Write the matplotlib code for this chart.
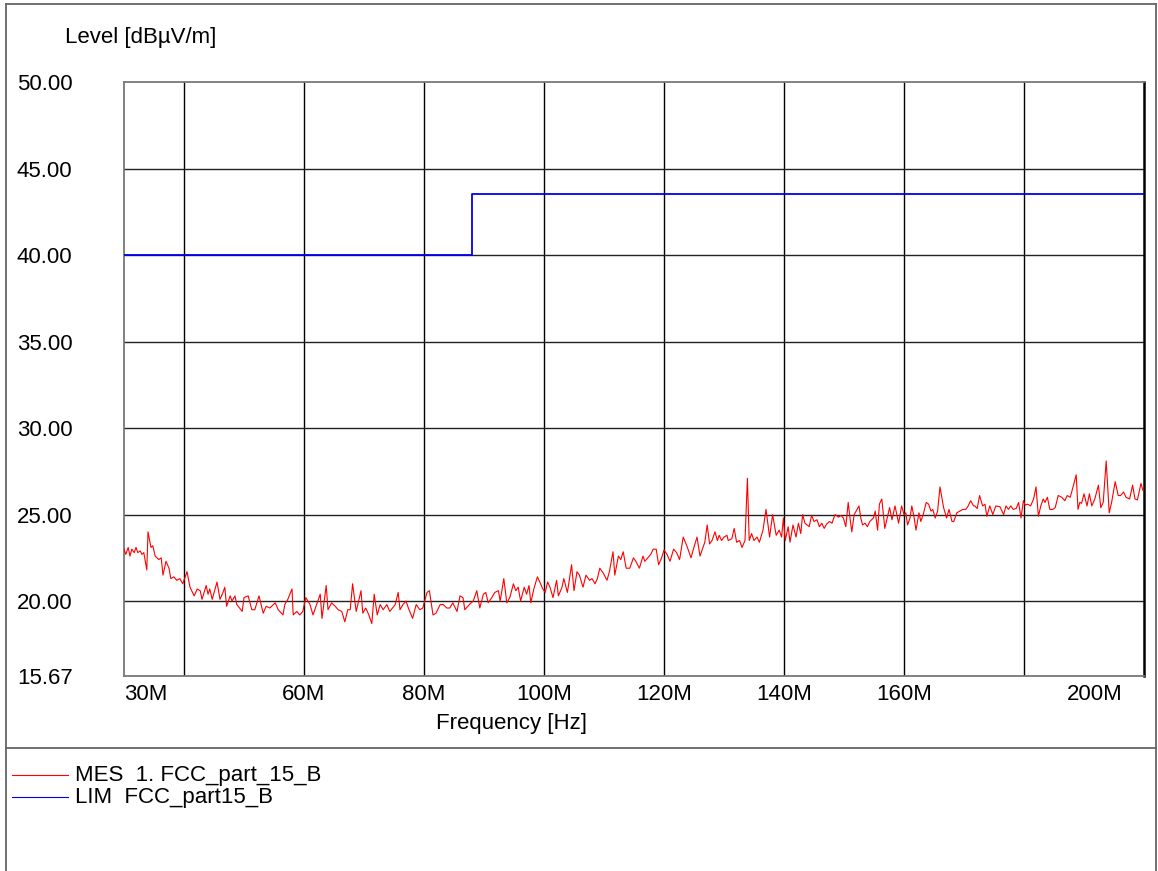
import numpy as np
import matplotlib
matplotlib.use("Agg")
import matplotlib.pyplot as plt
from matplotlib.lines import Line2D

plt.rcParams['font.family'] = ['Liberation Sans', 'DejaVu Sans']

# ================================
# DATA: measured level (MHz, dBuV/m)
# ================================
freq_mhz = [
    30.0, 30.3, 30.7, 31.0, 31.3, 31.7, 32.0, 32.3, 32.7, 33.0, 33.3, 33.8, 34.0, 34.5, 34.8,
    35.2, 35.5, 35.8, 36.2, 36.5, 37.0, 37.5, 37.8, 38.3, 38.8, 39.3, 39.8, 40.5, 41.0, 41.7,
    42.2, 42.7, 43.0, 43.7, 44.0, 44.3, 44.7, 45.5, 46.0, 46.5, 46.8, 47.1, 47.7, 48.0, 48.5,
    48.8, 49.7, 50.0, 50.7, 51.3, 51.8, 52.5, 53.2, 53.7, 54.3, 55.2, 55.7, 56.5, 56.8, 57.3,
    58.0, 58.2, 58.8, 59.3, 59.8, 60.3, 61.0, 61.5, 62.1, 62.7, 63.0, 63.7, 64.0, 64.6, 65.2,
    65.7, 66.3, 66.8, 67.3, 67.7, 68.1, 68.7, 69.5, 69.8, 70.3, 70.8, 71.3, 71.7, 72.2, 72.7,
    73.2, 73.8, 74.3, 75.2, 75.7, 76.0, 76.5, 77.0, 77.5, 78.1, 78.7, 79.3, 79.8, 80.5, 80.9,
    81.5, 82.0, 82.7, 83.2, 83.8, 84.3, 84.8, 85.5, 86.0, 86.5, 86.8, 87.3, 87.7, 88.2, 88.8,
    89.3, 89.9, 90.3, 90.7, 91.3, 91.8, 92.4, 92.7, 93.3, 93.8, 94.3, 94.9, 95.3, 95.7, 96.1,
    96.7, 97.1, 97.5, 97.8, 98.3, 98.9, 99.3, 99.8, 100.2, 100.6, 101.0, 101.5, 102.1, 102.4, 103.0,
    103.3, 103.9, 104.6, 105.0, 105.5, 105.9, 106.5, 107.0, 107.6, 108.0, 108.5, 108.9, 109.3, 109.9, 110.5,
    110.9, 111.5, 111.8, 112.4, 112.8, 113.2, 113.7, 114.3, 114.9, 115.3, 115.9, 116.5, 116.8, 117.3, 117.8,
    118.2, 118.7, 119.1, 119.6, 120.0, 120.5, 121.0, 121.6, 122.1, 122.6, 123.2, 123.8, 124.5, 124.9, 125.5,
    126.0, 126.5, 126.8, 127.2, 127.6, 128.0, 128.5, 128.9, 129.2, 129.6, 130.0, 130.5, 130.7, 131.3, 131.7,
    132.1, 132.6, 133.0, 133.5, 133.9, 134.2, 134.6, 135.0, 135.5, 135.9, 136.5, 137.0, 137.6, 138.1, 138.7,
    139.2, 139.6, 139.9, 140.2, 140.7, 141.0, 141.5, 142.0, 142.4, 142.8, 143.1, 143.5, 144.2, 144.6, 145.0,
    145.5, 145.9, 146.3, 146.7, 147.1, 147.6, 148.0, 148.5, 149.1, 149.5, 149.9, 150.3, 150.7, 151.0, 151.3,
    151.7, 152.5, 152.8, 153.1, 153.5, 153.9, 154.3, 154.9, 155.2, 155.6, 155.9, 156.3, 156.8, 157.2, 157.6,
    158.0, 158.5, 159.1, 159.6, 160.0, 160.3, 160.6, 161.0, 161.3, 161.7, 162.0, 162.5, 162.8, 163.2, 163.7,
    164.1, 164.5, 164.8, 165.2, 165.6, 166.0, 166.6, 167.1, 167.5, 168.0, 168.3, 168.8, 169.3, 169.8, 170.3,
    170.7, 171.1, 171.6, 171.8, 172.2, 172.6, 173.1, 173.5, 173.8, 174.3, 174.8, 175.3, 176.0, 176.6, 177.0,
    177.4, 177.8, 178.2, 178.7, 179.1, 179.5, 179.9, 180.2, 180.6, 181.1, 181.6, 182.0, 182.4, 182.8, 183.2,
    183.5, 183.9, 184.3, 184.8, 185.2, 185.7, 186.3, 186.8, 187.2, 187.7, 188.1, 188.7, 189.0, 189.3, 189.6,
    190.0, 190.5, 190.9, 191.3, 191.8, 192.4, 192.8, 193.2, 193.7, 194.2, 194.6, 195.2, 195.7, 196.1, 196.6,
    197.0, 197.6, 198.1, 198.5, 198.9, 199.5, 199.8, 200.0,
]
level_dbuv = [
    23.0, 22.7, 23.1, 22.6, 23.0, 22.8, 23.1, 22.8, 22.9, 22.7, 22.8, 21.8, 24.0, 23.1, 23.2,
    22.6, 22.5, 22.4, 22.5, 21.5, 22.3, 21.9, 21.3, 21.4, 21.2, 21.3, 21.0, 21.7, 20.8, 20.3,
    20.7, 20.6, 20.1, 20.9, 20.4, 20.7, 20.1, 21.1, 20.1, 20.5, 20.8, 19.7, 20.3, 20.0, 20.3,
    19.8, 19.4, 20.2, 20.3, 19.5, 19.5, 20.3, 19.3, 19.7, 19.6, 19.9, 19.5, 19.2, 19.8, 20.1,
    20.7, 19.2, 19.4, 19.2, 19.4, 20.2, 19.8, 19.2, 19.8, 20.4, 19.0, 20.9, 19.5, 19.9, 19.7,
    19.5, 19.4, 18.8, 19.5, 19.5, 21.0, 19.4, 20.6, 19.3, 19.6, 19.2, 18.7, 20.4, 19.2, 19.8,
    19.5, 19.8, 19.4, 19.8, 20.5, 19.5, 19.8, 20.0, 19.5, 19.0, 19.8, 19.5, 19.6, 20.5, 20.6,
    19.2, 19.3, 19.8, 19.8, 19.6, 19.6, 19.9, 19.4, 20.3, 20.2, 19.5, 19.7, 19.85, 20.0, 20.6,
    19.6, 20.4, 20.5, 19.9, 20.2, 20.5, 20.6, 20.0, 21.3, 19.9, 20.2, 21.0, 20.6, 20.8, 20.0,
    20.8, 20.4, 20.9, 19.9, 20.7, 21.4, 21.1, 20.7, 20.5, 21.1, 20.8, 20.2, 21.2, 20.3, 20.8,
    21.3, 20.5, 22.1, 20.6, 21.7, 21.5, 20.8, 21.5, 21.2, 21.3, 21.0, 21.3, 21.9, 21.6, 21.2,
    21.7, 22.85, 21.5, 22.6, 22.4, 22.85, 21.9, 21.9, 22.5, 22.3, 21.9, 22.6, 22.3, 22.5, 22.7,
    23.0, 23.0, 22.1, 22.5, 22.95, 22.7, 22.3, 23.0, 22.8, 22.4, 23.7, 23.2, 22.5, 23.0, 23.7,
    22.6, 23.1, 23.4, 24.4, 23.3, 23.5, 24.0, 23.5, 23.8, 23.5, 23.7, 23.8, 23.5, 23.6, 24.2,
    23.4, 23.5, 23.1, 23.5, 27.1, 23.5, 23.9, 23.5, 23.7, 23.4, 24.1, 25.3, 23.7, 25.0, 23.8,
    24.1, 23.7, 24.8, 23.5, 24.3, 23.4, 24.4, 23.7, 24.5, 23.9, 25.0, 24.5, 24.3, 24.96, 24.6,
    24.7, 24.3, 24.5, 24.2, 24.45, 24.6, 24.5, 25.0, 24.85, 24.95, 24.8, 24.3, 25.7, 24.8, 24.0,
    25.0, 25.5, 24.8, 24.4, 24.5, 24.3, 24.6, 24.8, 25.2, 24.1, 25.6, 25.9, 24.2, 24.8, 25.4,
    24.7, 25.5, 24.5, 25.5, 25.0, 25.1, 24.4, 24.8, 25.5, 24.8, 24.1, 25.1, 24.6, 25.0, 25.7,
    25.6, 25.2, 25.3, 24.8, 25.2, 26.6, 25.4, 24.8, 25.3, 24.6, 24.6, 25.1, 25.2, 25.3, 25.3,
    25.5, 25.8, 25.5, 25.5, 25.35, 26.1, 25.5, 25.6, 24.9, 25.5, 25.0, 25.5, 25.45, 25.0, 25.5,
    25.3, 25.5, 25.3, 25.35, 25.7, 24.8, 25.8, 25.55, 25.6, 25.5, 25.9, 26.6, 24.9, 25.5, 25.9,
    25.7, 26.0, 25.3, 25.3, 25.4, 26.1, 26.0, 25.8, 26.1, 26.0, 26.5, 27.3, 25.3, 25.7, 25.65,
    26.2, 25.5, 26.2, 25.5, 25.9, 26.7, 25.4, 25.7, 28.1, 25.1, 25.7, 26.9, 26.1, 26.1, 26.3,
    26.0, 25.9, 26.7, 25.9, 25.85, 26.8, 26.4, 26.45,
]

# FCC part 15 class B limit (step at 88 MHz)
limit_freq_mhz = [30.0, 88.0, 88.0, 200.0]
limit_dbuv = [40.0, 40.0, 43.5, 43.5]

# axis setup
x_min, x_max = 30.0, 200.0
y_min, y_max = 15.67, 50.0
y_ticks = [15.67, 20.0, 25.0, 30.0, 35.0, 40.0, 45.0, 50.0]
x_grid = [40, 60, 80, 100, 120, 140, 160, 180]
x_label_pos = [33.6, 60, 80, 100, 120, 140, 160, 191.75]
x_label_txt = ["30M", "60M", "80M", "100M", "120M", "140M", "160M", "200M"]

FS = 16
W, H = 1158, 871

fig = plt.figure(figsize=(W / 100, H / 100), dpi=100)
ax = fig.add_axes([124 / W, 1 - 676 / H, 1020 / W, 594 / H])

ax.plot(freq_mhz, level_dbuv, color='red', lw=0.8, zorder=3)
ax.plot(limit_freq_mhz, limit_dbuv, color='#0000ee', lw=1.3, zorder=3)

ax.set_xlim(x_min, x_max)
ax.set_ylim(y_min, y_max)

ax.set_yticks(y_ticks)
ax.set_yticklabels(["%.2f" % v for v in y_ticks])
ax.set_xticks(x_label_pos)
ax.set_xticklabels(x_label_txt)
ax.set_xticks(x_grid, minor=True)
ax.tick_params(axis='both', which='both', length=0, labelsize=FS)
ax.tick_params(axis='y', pad=37)
ax.tick_params(axis='x', pad=6)

# grid lines
for xv in x_grid:
    ax.axvline(xv, color='black', lw=1.0, zorder=1)
for yv in y_ticks[1:-1]:
    ax.axhline(yv, color='#222222', lw=1.0, zorder=1)

for side in ['left', 'top', 'bottom']:
    ax.spines[side].set_color('#777777')
    ax.spines[side].set_linewidth(1.3)
ax.spines['right'].set_color('black')
ax.spines['right'].set_linewidth(1.8)

fig.text(65 / W, 1 - 38 / H, "Level [dBµV/m]", fontsize=FS, ha='left', va='center')
fig.text(512 / W, 1 - 724 / H, "Frequency [Hz]", fontsize=FS, ha='center', va='center')

# outer frame and separator
frame_kw = dict(color='#666666', lw=1.3, transform=fig.transFigure)
fig.add_artist(Line2D([6 / W, 6 / W], [0, 1 - 4 / H], **frame_kw))
fig.add_artist(Line2D([6 / W, 1156 / W], [1 - 4 / H, 1 - 4 / H], **frame_kw))
fig.add_artist(Line2D([1156 / W, 1156 / W], [0, 1 - 4 / H], **frame_kw))
fig.add_artist(Line2D([6 / W, 1156 / W], [1 - 748 / H, 1 - 748 / H], **frame_kw))

# legend
fig.add_artist(Line2D([12 / W, 68 / W], [1 - 775 / H, 1 - 775 / H], color='red', lw=0.8,
                      transform=fig.transFigure))
fig.text(75 / W, 1 - 775 / H, "MES  1. FCC_part_15_B", fontsize=FS, ha='left', va='center')
fig.add_artist(Line2D([12 / W, 68 / W], [1 - 797 / H, 1 - 797 / H], color='#0000ee', lw=0.8,
                      transform=fig.transFigure))
fig.text(75 / W, 1 - 797 / H, "LIM  FCC_part15_B", fontsize=FS, ha='left', va='center')

fig.savefig("out.png", dpi=100)
